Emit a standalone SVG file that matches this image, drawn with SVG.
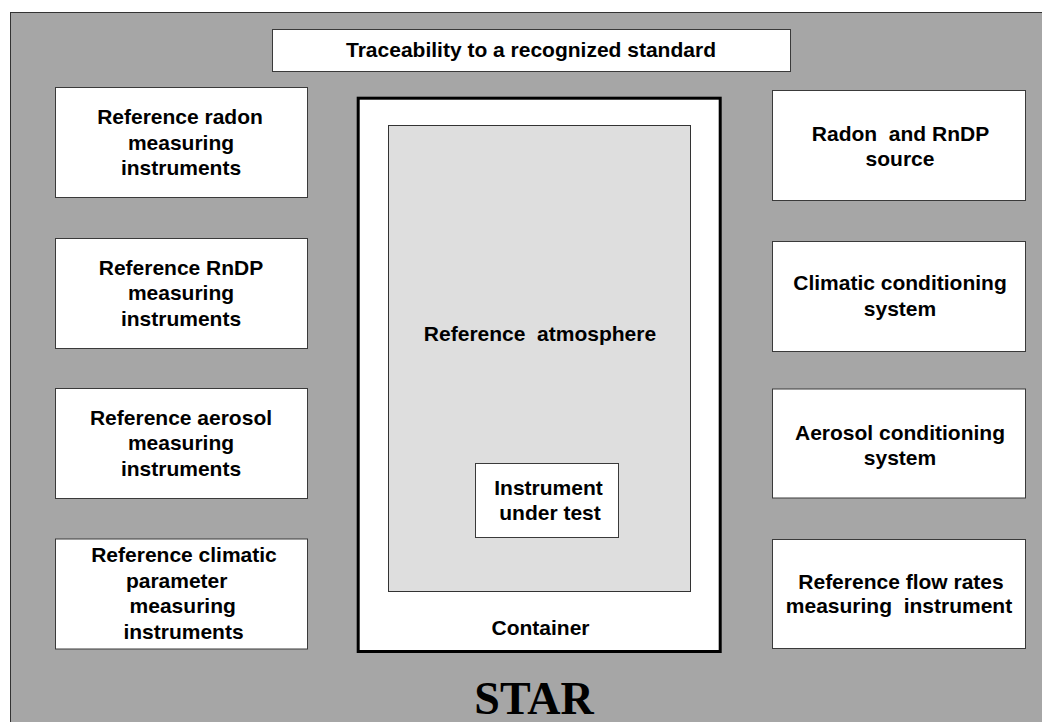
<svg xmlns="http://www.w3.org/2000/svg" width="1042" height="722" viewBox="0 0 1042 722">
<style>
.box{fill:#ffffff;stroke:#3a3a3a;stroke-width:1}
.t{font-family:"Liberation Sans",Arial,sans-serif;font-weight:bold;font-size:21px;fill:#000;text-anchor:middle;white-space:pre}
.star{font-family:"Liberation Serif","Times New Roman",serif;font-weight:bold;font-size:46px;fill:#000;text-anchor:middle}
</style>
<rect width="1042" height="722" fill="#ffffff"/>
<g id="background">
<rect x="10.5" y="12.5" width="1040" height="720" fill="#a6a6a6" stroke="#333333" stroke-width="1"/>
<text class="star" x="534" y="714">STAR</text>
</g>
<g id="traceability">
<rect class="box" x="272.5" y="29.5" width="518" height="42"/>
<text class="t" x="531" y="57">Traceability to a recognized standard</text>
</g>
<g id="container">
<rect x="358.2" y="98.2" width="362" height="553.3" fill="#ffffff" stroke="#000000" stroke-width="3"/>
<text class="t" x="540.5" y="635">Container</text>
</g>
<g id="reference-atmosphere">
<rect x="388.5" y="125.5" width="302" height="466" fill="#dedede" stroke="#333333" stroke-width="1"/>
<text class="t" x="540" y="341">Reference  atmosphere</text>
</g>
<g id="instrument-under-test">
<rect class="box" x="475.5" y="463.5" width="143" height="74"/>
<text class="t" x="548.5" y="495">Instrument</text>
<text class="t" x="550" y="520">under test</text>
</g>
<g id="ref-radon">
<rect class="box" x="55.5" y="87.5" width="252" height="110"/>
<text class="t" x="180" y="124">Reference radon</text>
<text class="t" x="181" y="149.5">measuring</text>
<text class="t" x="181" y="175">instruments</text>
</g>
<g id="ref-rndp">
<rect class="box" x="55.5" y="238.5" width="252" height="110"/>
<text class="t" x="181" y="274.5">Reference RnDP</text>
<text class="t" x="181" y="300">measuring</text>
<text class="t" x="181" y="325.5">instruments</text>
</g>
<g id="ref-aerosol">
<rect class="box" x="55.5" y="388.5" width="252" height="110"/>
<text class="t" x="181" y="424.5">Reference aerosol</text>
<text class="t" x="181" y="450">measuring</text>
<text class="t" x="181" y="475.5">instruments</text>
</g>
<g id="ref-climatic">
<rect class="box" x="55.5" y="539" width="252" height="110"/>
<text class="t" x="184" y="562">Reference climatic</text>
<text class="t" x="176.7" y="587.5">parameter</text>
<text class="t" x="182.7" y="613">measuring</text>
<text class="t" x="183.5" y="638.5">instruments</text>
</g>
<g id="radon-source">
<rect class="box" x="772.5" y="90.5" width="253" height="110"/>
<text class="t" x="900.5" y="140.5">Radon  and RnDP</text>
<text class="t" x="900" y="165.5">source</text>
</g>
<g id="climatic-conditioning">
<rect class="box" x="772.5" y="241.5" width="253" height="110"/>
<text class="t" x="900" y="290">Climatic conditioning</text>
<text class="t" x="900" y="315.5">system</text>
</g>
<g id="aerosol-conditioning">
<rect class="box" x="772.5" y="389" width="253" height="109"/>
<text class="t" x="900" y="439.5">Aerosol conditioning</text>
<text class="t" x="900" y="464.5">system</text>
</g>
<g id="ref-flow">
<rect class="box" x="772.5" y="539.5" width="253" height="109"/>
<text class="t" x="901" y="588.5">Reference flow rates</text>
<text class="t" x="899" y="613">measuring  instrument</text>
</g>
<g id="connectors"></g>
</svg>
